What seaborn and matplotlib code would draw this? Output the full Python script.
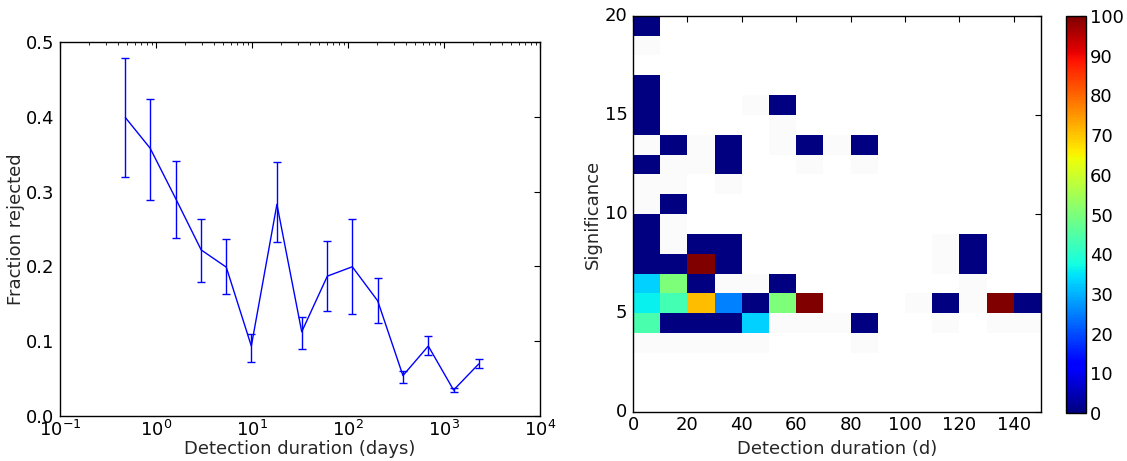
import numpy as np
import pandas as pd
import matplotlib
matplotlib.use('Agg')
import matplotlib.pyplot as plt
import seaborn as sns
from matplotlib.colors import ListedColormap

# left panel: fraction rejected vs detection duration
durations = [0.48, 0.87, 1.6, 2.96, 5.4, 9.85, 18.2, 33, 61, 111, 204, 374, 687, 1260, 2300]
frac_rejected = [0.399, 0.358, 0.291, 0.222, 0.199, 0.0935, 0.283, 0.1126, 0.187, 0.1995, 0.154, 0.054, 0.0935, 0.0347, 0.0695]
err_low = [0.320, 0.289, 0.238, 0.179, 0.163, 0.0717, 0.232, 0.0895, 0.140, 0.137, 0.124, 0.044, 0.081, 0.0325, 0.0637]
err_high = [0.479, 0.424, 0.341, 0.264, 0.236, 0.1095, 0.339, 0.1318, 0.234, 0.263, 0.184, 0.0606, 0.107, 0.037, 0.076]

# right panel: 2d histogram, duration bins of 10 d, significance bins of 1
dur_edges = list(range(0, 160, 10))
sig_edges = list(range(0, 21))
cell_sig = [19, 16, 15, 15, 14, 13, 13, 13, 13, 12, 12, 10, 9, 8, 8, 8, 8,
            7, 7, 7, 7, 7, 6, 6, 6, 6, 5, 5, 5, 5, 5, 5, 5, 5, 5, 5,
            4, 4, 4, 4, 4, 4]
cell_dur = [0, 0, 0, 5, 0, 1, 3, 6, 8, 0, 3, 1, 0, 0, 2, 3, 12,
            0, 1, 2, 3, 12, 0, 1, 2, 5, 0, 1, 2, 3, 4, 5, 6, 11, 13, 14,
            0, 1, 2, 3, 4, 8]
cell_val = [0, 0, 0, 0, 0, 0, 0, 0, 0, 0, 0, 0, 0, 0, 0, 0, 0,
            0, 0, 100, 0, 0, 33, 50, 0, 0, 36, 43, 71, 25, 0, 50, 100, 0, 100, 0,
            44, 0, 0, 0, 33, 0]
# cells with entries but no value (drawn almost white)
empty_sig = [18, 15, 14, 13, 13, 13, 13, 12, 12, 12, 12, 11, 11, 11, 10, 9, 8, 8, 7,
             6, 6, 6, 5, 5, 4, 4, 4, 4, 4, 4, 3, 3, 3, 3, 3, 3]
empty_dur = [0, 4, 5, 0, 2, 5, 7, 1, 2, 6, 8, 0, 1, 3, 0, 1, 1, 11, 11,
             3, 4, 12, 10, 12, 5, 6, 7, 11, 13, 14, 0, 1, 2, 3, 4, 8]

sns.set_style('white')
plt.rcParams.update({
    'font.family': ['DejaVu Sans'],
    'font.size': 13,
    'axes.labelsize': 13,
    'xtick.labelsize': 13, 'ytick.labelsize': 13,
    'xtick.direction': 'in', 'ytick.direction': 'in',
    'xtick.top': True, 'ytick.right': True,
    'xtick.major.size': 4, 'ytick.major.size': 4,
    'xtick.minor.size': 2, 'ytick.minor.size': 2,
    'xtick.major.pad': 3, 'ytick.major.pad': 4,
    'xtick.minor.pad': 3,
    'axes.labelpad': 2,
    'axes.edgecolor': 'black', 'axes.linewidth': 1.0,
    'xtick.color': 'black', 'ytick.color': 'black',
})

fig = plt.figure(figsize=(11.27, 4.61), dpi=100)
ax1 = fig.add_axes([0.0532, 0.0976, 0.4259, 0.8113])
ax2 = fig.add_axes([0.5617, 0.1056, 0.362, 0.8603])
cax = fig.add_axes([0.9459, 0.1041, 0.01775, 0.861])

# left: line + asymmetric error bars
df = pd.DataFrame({'dur': durations, 'frac': frac_rejected})
sns.lineplot(data=df, x='dur', y='frac', ax=ax1, color='#0000ff', linewidth=1)
yerr = [np.array(frac_rejected) - np.array(err_low), np.array(err_high) - np.array(frac_rejected)]
ax1.errorbar(durations, frac_rejected, yerr=yerr, fmt='none', ecolor='#0000ff',
             elinewidth=1, capsize=3, capthick=1)
ax1.set_xscale('log')
ax1.set_xlim(0.1, 1e4)
ax1.set_ylim(0, 0.5)
ax1.set_yticks([0.0, 0.1, 0.2, 0.3, 0.4, 0.5])
ax1.set_xlabel('Detection duration (days)', labelpad=0)
ax1.set_ylabel('Fraction rejected', labelpad=1)
ax1.tick_params(which='both', direction='in', top=True, right=True)

# right: heatmap
n_sig = len(sig_edges) - 1
n_dur = len(dur_edges) - 1
grid = np.full((n_sig, n_dur), np.nan)
for s, d, v in zip(cell_sig, cell_dur, cell_val):
    grid[s, d] = v
empty = np.full((n_sig, n_dur), np.nan)
for s, d in zip(empty_sig, empty_dur):
    empty[s, d] = 0

sns.heatmap(empty, ax=ax2, cmap=ListedColormap(['#fbfbfb']), cbar=False)
sns.heatmap(grid, ax=ax2, cmap='jet', vmin=0, vmax=100, cbar_ax=cax)
ax2.invert_yaxis()
ax2.set_xlim(0, n_dur)
ax2.set_ylim(0, n_sig)
ax2.set_xticks([0, 2, 4, 6, 8, 10, 12, 14])
ax2.set_xticklabels(['0', '20', '40', '60', '80', '100', '120', '140'], rotation=0)
ax2.set_yticks([0, 5, 10, 15, 20])
ax2.set_yticklabels(['0', '5', '10', '15', '20'], rotation=0)
ax2.set_xlabel('Detection duration (d)', labelpad=4)
ax2.set_ylabel('Significance', labelpad=2)
for sp in ax2.spines.values():
    sp.set_visible(True)
    sp.set_color('black')
ax2.tick_params(direction='in', top=True, right=True, length=4)

cbar = ax2.collections[-1].colorbar
cbar.set_ticks(list(range(0, 101, 10)))
cbar.outline.set_visible(True)
cbar.outline.set_edgecolor('black')
cbar.outline.set_linewidth(1)
cax.tick_params(direction='in', length=4, right=True, left=False, pad=3)

fig.savefig('out.png', dpi=100)
